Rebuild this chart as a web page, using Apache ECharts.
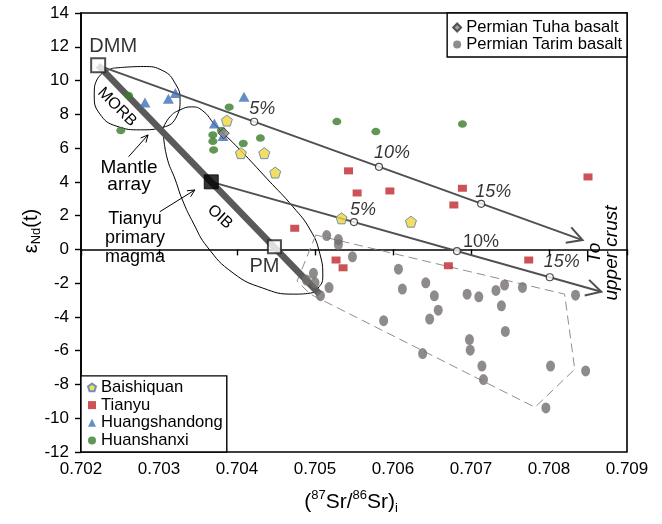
<!DOCTYPE html>
<html>
<head>
<meta charset="utf-8">
<script src="https://cdn.jsdelivr.net/npm/echarts@6/dist/echarts.min.js"></script>
<style>
  html, body { margin: 0; padding: 0; background: #fff; }
  #chart { width: 662px; height: 524px; }
</style>
</head>
<body>
<div id="chart"></div>
<script>
// ---- Sample data: (87Sr/86Sr)i vs eps-Nd(t) ----
const tarimBasalt = [
  [0.70515, 0.82], [0.70530, 0.58], [0.70530, 0.29], [0.70548, -0.44],
  [0.70498, -1.42], [0.70489, -1.82], [0.70500, -1.97], [0.70518, -2.26],
  [0.70507, -2.74], [0.70607, -1.17], [0.70612, -2.35], [0.70642, -1.98],
  [0.70653, -2.75], [0.70658, -3.60], [0.70647, -4.13], [0.70588, -4.22],
  [0.70638, -6.17], [0.70695, -2.65], [0.70710, -2.81], [0.70732, -2.43],
  [0.70743, -2.11], [0.70766, -2.25], [0.70739, -3.34], [0.70744, -4.86],
  [0.70698, -5.34], [0.70699, -5.97], [0.70714, -6.91], [0.70716, -7.71],
  [0.70802, -6.91], [0.70847, -7.20], [0.70796, -9.39], [0.70834, -2.71]
];
const tuhaBasalt = [[0.70383, 6.88]];
const baishiquan = [
  [0.70387, 7.63], [0.70405, 5.70], [0.70435, 5.70], [0.70449, 4.55],
  [0.70534, 1.84], [0.70623, 1.64]
];
const tianyu = [
  [0.70543, 4.65], [0.70554, 3.34], [0.70596, 3.46], [0.70689, 3.62],
  [0.70678, 2.63], [0.70850, 4.29], [0.70474, 1.25], [0.70527, -0.63],
  [0.70536, -1.09], [0.70671, -0.97], [0.70774, -0.63]
];
const huangshandong = [
  [0.70282, 8.70], [0.70312, 8.92], [0.70321, 9.26], [0.70409, 9.04],
  [0.70371, 7.45], [0.70382, 6.72]
];
const huanshanxi = [
  [0.70261, 9.12], [0.70251, 7.04], [0.70390, 8.42], [0.70380, 7.04],
  [0.70369, 6.78], [0.70369, 6.40], [0.70370, 5.89], [0.70408, 6.27],
  [0.70430, 6.59], [0.70528, 7.57], [0.70578, 6.98], [0.70689, 7.42]
];

// End-member compositions
const dmm = [0.70222, 10.9];
const oib = [0.70367, 4.0];
const pm = [0.70448, 0.15];
const mantleArrayEnd = [0.70506, -2.65];

// Mixing trends towards upper crust (start -> arrow tip)
const mixingTrends = [
  [dmm[0], dmm[1], 0.70843, 0.55],
  [oib[0], oib[1], 0.70867, -2.51]
];
// Crustal contamination steps along the trends
const mixSteps = [
  [0.70422, 7.56], [0.70582, 4.89], [0.70713, 2.70],
  [0.70550, 1.62], [0.70682, -0.10], [0.70801, -1.65]
];
const mixStepLabels = ['5%', '10%', '15%', '5%', '10%', '15%'];

// Fields and pointers
const morbField = [
  [0.70241, 10.73], [0.70280, 10.83], [0.70305, 10.58], [0.70321, 9.81],
  [0.70327, 8.86], [0.70323, 7.91], [0.70305, 7.23], [0.70276, 7.08],
  [0.70246, 7.29], [0.70224, 8.03], [0.70217, 9.15], [0.70221, 10.10],
  [0.70241, 10.73]
];
const oibField = [
  [0.70305, 7.14], [0.70314, 7.85], [0.70327, 8.26], [0.70342, 8.44],
  [0.70356, 8.21], [0.70372, 7.37], [0.70404, 5.89], [0.70440, 4.11],
  [0.70472, 2.51], [0.70494, 1.15], [0.70506, -0.22], [0.70510, -1.64],
  [0.70504, -2.29], [0.70494, -2.59], [0.70472, -2.65], [0.70433, -2.29],
  [0.70395, -1.40], [0.70362, 0.14], [0.70344, 1.56], [0.70330, 2.93],
  [0.70321, 4.11], [0.70310, 5.48], [0.70305, 7.14]
];
const tarimField = [
  [0.70501, 0.85], [0.70477, -1.88], [0.70494, -2.65], [0.70782, -9.35],
  [0.70833, -7.10], [0.70820, -2.65], [0.70501, 0.85]
];
const pointers = [
  [0.70261, 5.49, 0.70286, 6.78],
  [0.70301, 2.23, 0.70346, 3.52]
];

// ---- Styling ----
const FONT = 'Liberation Sans, Arial, Helvetica, sans-serif';
const LINE_GREY = '#505050';
const pentagon = 'path://M0,-1 L0.951,-0.309 L0.588,0.809 L-0.588,0.809 L-0.951,-0.309 Z';
const stepLabelStyle = [
  { offset: [8, -13], fontStyle: 'italic' },
  { offset: [13, -14], fontStyle: 'italic' },
  { offset: [12, -12], fontStyle: 'italic' },
  { offset: [9, -12], fontStyle: 'italic' },
  { offset: [24, -9], fontStyle: 'normal' },
  { offset: [12, -15], fontStyle: 'italic' }
];

function arrowRenderer(headLen, halfAngle, width, color) {
  return function (params, api) {
    const a = api.coord([api.value(0), api.value(1)]);
    const b = api.coord([api.value(2), api.value(3)]);
    const t = Math.atan2(b[1] - a[1], b[0] - a[0]);
    const l = [b[0] - headLen * Math.cos(t - halfAngle), b[1] - headLen * Math.sin(t - halfAngle)];
    const r = [b[0] - headLen * Math.cos(t + halfAngle), b[1] - headLen * Math.sin(t + halfAngle)];
    return {
      type: 'group',
      children: [
        { type: 'line', shape: { x1: a[0], y1: a[1], x2: b[0], y2: b[1] },
          style: { stroke: color, lineWidth: width } },
        { type: 'polyline', shape: { points: [l, b, r] },
          style: { stroke: color, lineWidth: width, fill: null } }
      ]
    };
  };
}

const chart = echarts.init(document.getElementById('chart'), null, { renderer: 'canvas' });

const option = {
  animation: false,
  backgroundColor: '#fff',
  textStyle: { fontFamily: FONT },
  grid: {
    left: 81, right: 35, top: 13, bottom: 72,
    show: true, borderColor: '#000', borderWidth: 1.6
  },
  xAxis: {
    type: 'value', min: 0.702, max: 0.709, interval: 0.001,
    axisLine: { lineStyle: { color: '#000', width: 1.6 } },
    axisTick: { length: 6, lineStyle: { color: '#000', width: 1.4 } },
    axisLabel: { color: '#000', fontSize: 17, margin: 9, fontFamily: FONT,
      showMinLabel: true, showMaxLabel: true,
      formatter: v => v.toFixed(3) },
    splitLine: { show: false }
  },
  yAxis: {
    type: 'value', min: -12, max: 14, interval: 2,
    axisLine: { lineStyle: { color: '#000', width: 1.6 } },
    axisTick: { length: 6, lineStyle: { color: '#000', width: 1.4 } },
    axisLabel: { color: '#000', fontSize: 17, margin: 12, fontFamily: FONT,
      showMinLabel: true, showMaxLabel: true },
    splitLine: { show: false }
  },
  legend: [
    {
      orient: 'vertical', right: 35, top: 13,
      data: [
        { name: 'Permian Tuha basalt', icon: 'diamond' },
        { name: 'Permian Tarim basalt', icon: 'circle' }
      ],
      itemWidth: 8, itemHeight: 8, itemGap: 0,
      padding: [6, 5, 4, 5],
      borderColor: '#000', borderWidth: 1.4, backgroundColor: '#fff',
      textStyle: { fontSize: 16.6, color: '#000', fontFamily: FONT }
    },
    {
      orient: 'vertical', left: 81, bottom: 72,
      data: [
        { name: 'Baishiquan', icon: pentagon },
        { name: 'Tianyu', icon: 'rect' },
        { name: 'Huangshandong', icon: 'triangle' },
        { name: 'Huanshanxi', icon: 'circle' }
      ],
      itemWidth: 8, itemHeight: 8, itemGap: 0.7,
      padding: [3, 4, 3, 6],
      borderColor: '#000', borderWidth: 1.4, backgroundColor: '#fff',
      textStyle: { fontSize: 16.6, color: '#000', fontFamily: FONT }
    }
  ],
  graphic: [
    { type: 'text', x: 117, y: 107, rotation: -Math.PI / 4, z: 50,
      style: { text: 'MORB', fontSize: 16, fontFamily: FONT, fill: '#000', align: 'center', verticalAlign: 'middle' } },
    { type: 'text', x: 220, y: 217, rotation: -0.74, z: 50,
      style: { text: 'OIB', fontSize: 16, fontFamily: FONT, fill: '#000', align: 'center', verticalAlign: 'middle' } },
    { type: 'text', x: 129, y: 176, z: 50,
      style: { text: 'Mantle\narray', fontSize: 19, lineHeight: 17, fontFamily: FONT, fill: '#000', align: 'center', verticalAlign: 'middle' } },
    { type: 'text', x: 135, y: 238, z: 50,
      style: { text: 'Tianyu\nprimary\nmagma', fontSize: 18, lineHeight: 19, fontFamily: FONT, fill: '#000', align: 'center', verticalAlign: 'middle' } },
    { type: 'text', x: 603, y: 253, rotation: Math.PI / 2, z: 50,
      style: { text: 'To\nupper crust', fontSize: 19, lineHeight: 17, fontStyle: 'italic', fontFamily: FONT, fill: '#000', align: 'center', verticalAlign: 'middle' } },
    { type: 'text', x: 351, y: 502, z: 50,
      style: {
        text: '{n|(}{s|87}{n|Sr/}{s|86}{n|Sr)}{b|i}',
        align: 'center', verticalAlign: 'middle', fill: '#000',
        rich: {
          n: { fontSize: 21, lineHeight: 26, fontFamily: FONT, fill: '#000' },
          s: { fontSize: 13, lineHeight: 14, verticalAlign: 'top', fontFamily: FONT, fill: '#000' },
          b: { fontSize: 13, lineHeight: 12, verticalAlign: 'bottom', fontFamily: FONT, fill: '#000' }
        }
      } },
    { type: 'text', x: 31, y: 231, rotation: Math.PI / 2, z: 50,
      style: {
        text: '{n|ε}{b|Nd}{n|(t)}',
        align: 'center', verticalAlign: 'middle', fill: '#000',
        rich: {
          n: { fontSize: 20, lineHeight: 24, fontFamily: FONT, fill: '#000' },
          b: { fontSize: 13, lineHeight: 12, verticalAlign: 'bottom', fontFamily: FONT, fill: '#000' }
        }
      } }
  ],
  series: [
    { type: 'line', data: morbField, smooth: 0.5, symbol: 'none', silent: true, z: 1,
      lineStyle: { color: '#000', width: 1 } },
    { type: 'line', data: oibField, smooth: 0.5, symbol: 'none', silent: true, z: 1,
      lineStyle: { color: '#000', width: 1 } },
    { type: 'line', data: tarimField, symbol: 'none', silent: true, z: 1,
      lineStyle: { color: '#8f8f8f', width: 1, type: [9, 5] } },
    { type: 'line', data: [dmm, mantleArrayEnd], symbol: 'none', silent: true, z: 2,
      lineStyle: { color: '#5a5a5a', width: 6.5, cap: 'butt' } },
    { type: 'custom', data: mixingTrends, silent: true, z: 2,
      encode: { x: [0, 2], y: [1, 3] },
      renderItem: arrowRenderer(17, 0.5, 2, LINE_GREY) },
    { type: 'custom', data: pointers, silent: true, z: 2,
      encode: { x: [0, 2], y: [1, 3] },
      renderItem: arrowRenderer(8, 0.45, 1, '#000') },

    { name: 'Permian Tarim basalt', type: 'scatter', data: tarimBasalt, z: 3,
      symbol: 'circle', symbolSize: [9, 11],
      itemStyle: { color: '#736e6d' } },
    { name: 'Huanshanxi', type: 'scatter', data: huanshanxi, z: 4,
      symbol: 'circle', symbolSize: [9, 7.5],
      itemStyle: { color: '#3b7c2a' } },
    { name: 'Huangshandong', type: 'scatter', data: huangshandong, z: 4,
      symbol: 'triangle', symbolSize: [11, 10],
      itemStyle: { color: '#3e6fb6' } },
    { name: 'Tianyu', type: 'scatter', data: tianyu, z: 4,
      symbol: 'rect', symbolSize: [9, 7],
      itemStyle: { color: '#c1272d' } },
    { name: 'Baishiquan', type: 'scatter', data: baishiquan, z: 4,
      symbol: pentagon, symbolSize: 11,
      itemStyle: { color: '#f2d43b', borderColor: '#4f79b9', borderWidth: 1 } },
    { name: 'Permian Tuha basalt', type: 'scatter', data: tuhaBasalt, z: 5,
      symbol: 'diamond', symbolSize: 11,
      itemStyle: { color: '#8a8a8a', borderColor: '#333', borderWidth: 1 } },

    { type: 'scatter', silent: true, z: 6,
      data: [
        { value: dmm, symbol: 'rect', symbolSize: 14,
          itemStyle: { color: '#fff', borderColor: '#222', borderWidth: 2 },
          label: { show: true, formatter: 'DMM', position: 'inside', offset: [15, -19] } },
        { value: oib, symbol: 'rect', symbolSize: 14,
          itemStyle: { color: '#000', borderColor: '#000', borderWidth: 1 } },
        { value: pm, symbol: 'rect', symbolSize: 13,
          itemStyle: { color: '#fff', borderColor: '#222', borderWidth: 2 },
          label: { show: true, formatter: 'PM', position: 'inside', offset: [-10, 20] } }
      ],
      label: { color: '#000', fontSize: 20, fontFamily: FONT } },

    { type: 'scatter', silent: true, z: 7,
      data: mixSteps.map((p, i) => ({
        value: p,
        label: {
          show: true, formatter: mixStepLabels[i], position: 'inside',
          offset: stepLabelStyle[i].offset, fontStyle: stepLabelStyle[i].fontStyle
        }
      })),
      symbol: 'circle', symbolSize: 7,
      itemStyle: { color: '#fff', borderColor: '#222', borderWidth: 1.2 },
      label: { color: '#000', fontSize: 18, fontFamily: FONT } }
  ]
};

chart.setOption(option);
</script>
</body>
</html>
